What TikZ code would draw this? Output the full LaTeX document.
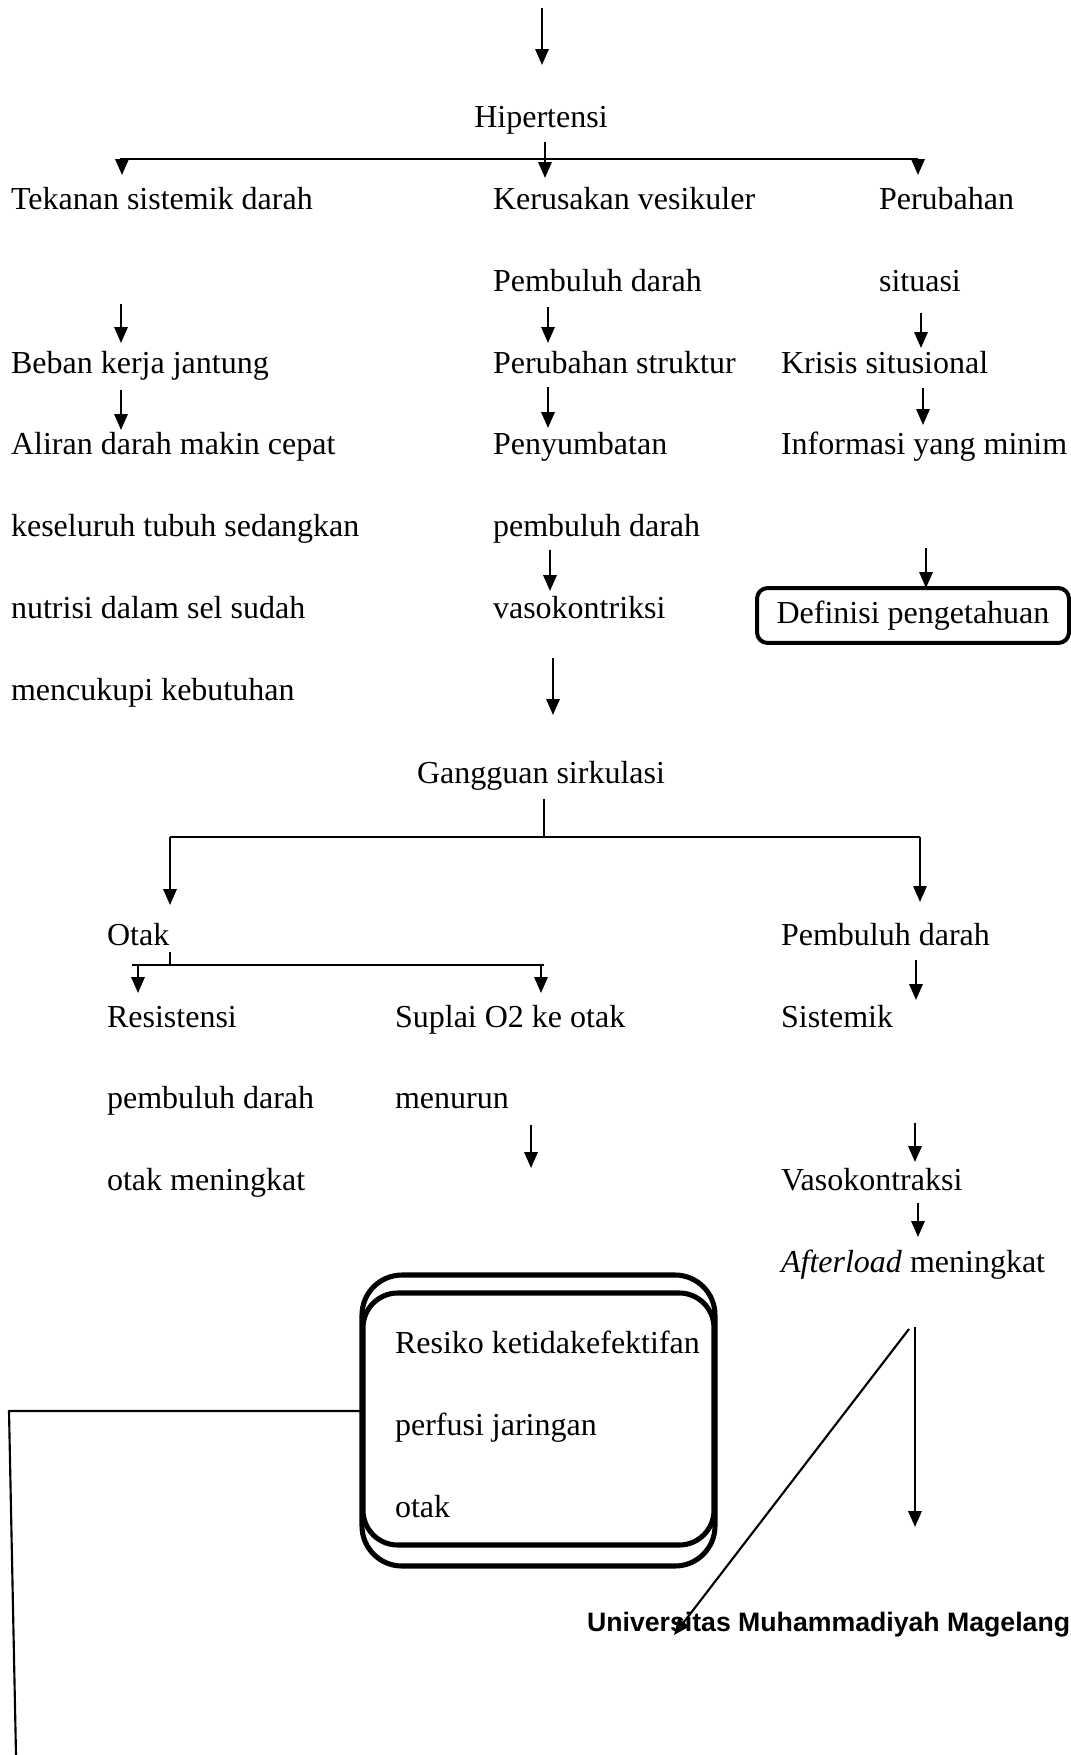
\documentclass[tikz,border=0pt]{standalone}
\usepackage{fontspec}
\setmainfont{Liberation Serif}
\newfontfamily\univfont{Liberation Sans}
\usetikzlibrary{arrows.meta}

\tikzset{
  txt/.style={anchor=base west, inner sep=0pt},
  mid/.style={anchor=base, inner sep=0pt},
  keybox/.style={draw, line width=1.5pt, rounded corners=4pt, minimum width=117pt, minimum height=20.6pt, inner sep=0pt},
  riskbox/.style={draw, line width=1.9pt, rounded corners=13pt, minimum width=131.6pt, minimum height=94.5pt, inner sep=0pt},
}

\begin{document}
\begin{tikzpicture}[x=0.375pt,y=-0.375pt,line width=0.8pt,line join=round,>={Triangle[length=6pt,width=5pt]}]
  \fontsize{12pt}{14pt}\selectfont
  \useasboundingbox (0,0) rectangle (1071,1755);

  \node[mid] (hipertensi) at (541,127) {Hipertensi};

  % kolom kiri
  \node[txt] (tekanan) at (10,209) {Tekanan sistemik darah};
  \node[txt] (beban) at (10,373) {Beban kerja jantung};
  \node[txt] (aliran) at (10,454) {Aliran darah makin cepat};
  \node[txt] (seluruh) at (10,536) {keseluruh tubuh sedangkan};
  \node[txt] (nutrisi) at (10,618) {nutrisi dalam sel sudah};
  \node[txt] (cukup) at (10,700) {mencukupi kebutuhan};

  % kolom tengah
  \node[txt] (kerusakan) at (492,209) {Kerusakan vesikuler};
  \node[txt] (pembuluhA) at (492,291) {Pembuluh darah};
  \node[txt] (struktur) at (492,373) {Perubahan struktur};
  \node[txt] (sumbat) at (492,454) {Penyumbatan};
  \node[txt] (pembuluhB) at (492,536) {pembuluh darah};
  \node[txt] (vasoA) at (492,618) {vasokontriksi};

  % kolom kanan
  \node[txt] (perubahan) at (878,209) {Perubahan};
  \node[txt] (situasi) at (878,291) {situasi};
  \node[txt] (krisis) at (780,373) {Krisis situsional};
  \node[txt] (informasi) at (780,454) {Informasi yang minim};
  \node[keybox] (definisi) at (913,615.5) {Definisi pengetahuan};

  \node[mid] (gangguan) at (541,783) {Gangguan sirkulasi};

  \node[txt] (otak) at (106,945) {Otak};
  \node[txt] (resistensi) at (106,1027) {Resistensi};
  \node[txt] (pembuluhC) at (106,1108) {pembuluh darah};
  \node[txt] (otakNaik) at (106,1190) {otak meningkat};
  \node[txt] (suplai) at (394,1027) {Suplai O2 ke otak};
  \node[txt] (menurun) at (394,1108) {menurun};
  \node[txt] (pembuluhD) at (780,945) {Pembuluh darah};
  \node[txt] (sistemik) at (780,1027) {Sistemik};
  \node[txt] (vasoB) at (780,1190) {Vasokontraksi};
  \node[txt] (afterload) at (780,1272) {\textit{Afterload} meningkat};

  % kotak resiko (dua garis)
  \draw[line width=1.9pt, rounded corners=15pt] (362,1275) rectangle (715,1566);
  \node[riskbox] (resiko) at (538.5,1419) {};
  \node[txt, align=left, font=\fontsize{12pt}{30.66pt}\selectfont] (resikoTeks) at (394,1517)
    {Resiko ketidakefektifan\\perfusi jaringan\\otak};

  \node[anchor=base west, inner sep=0pt, font=\univfont\bfseries\fontsize{10pt}{12pt}\selectfont] (univ) at (586,1631) {Universitas Muhammadiyah Magelang};

  % cabang
  \draw (120,159) -- (918,159);
  \draw (544,799) -- (544,837);
  \draw (170,837) -- (920,837);
  \draw (170,952) -- (170,965);
  \draw (132,965) -- (544,965);

  \foreach \x/\ya/\yb in {542/8/65, 545/142/178, 122/159/175, 918/159/175,
      121/304/343, 548/307/343, 921/313/348, 121/390/430, 548/387/428, 923/388/425,
      550/550/591, 926/548/588, 553/658/715, 170/837/905, 920/837/902,
      138/965/993, 541/965/993, 916/960/1000, 531/1125/1168, 915/1123/1162,
      918/1203/1237, 915/1327/1527}
    \draw[->] (\x,\ya) -- (\x,\yb);
  \draw[->] (909,1329) -- (674,1635);

  \coordinate (sudut) at (9,1411);
  \coordinate (ujung) at (16,1755);
  \draw (resiko.west |- sudut) -- (sudut) -- (ujung);
\end{tikzpicture}
\end{document}
